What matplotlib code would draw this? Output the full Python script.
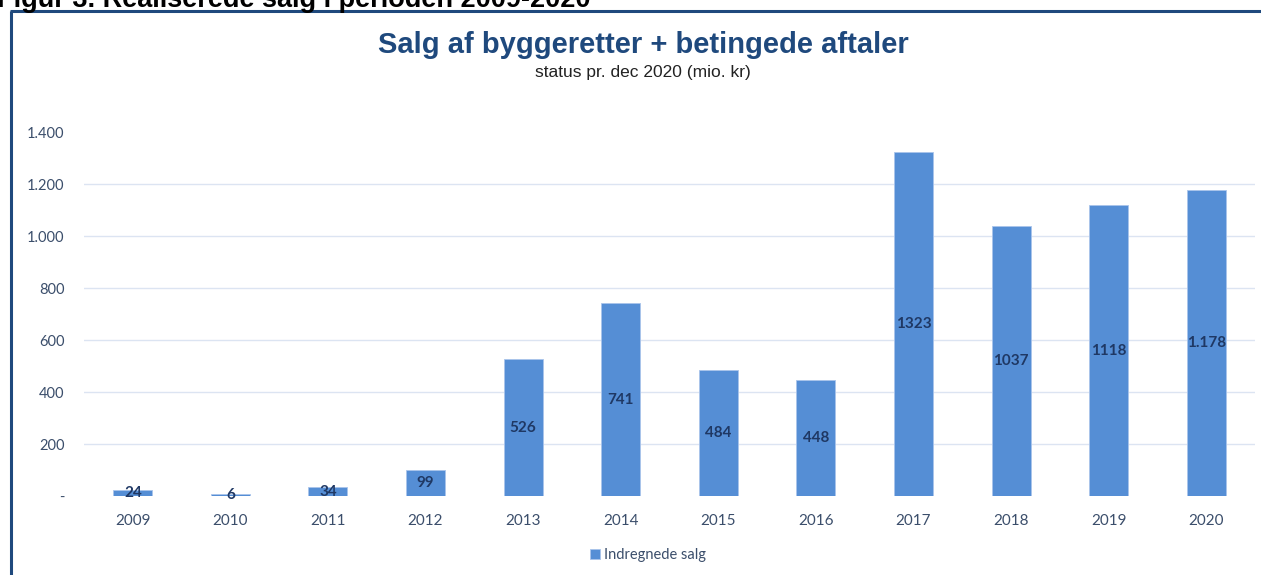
import matplotlib.pyplot as plt
from matplotlib.lines import Line2D

years = ['2009', '2010', '2011', '2012', '2013', '2014', '2015', '2016', '2017', '2018', '2019', '2020']
salg = [24, 6, 34, 99, 526, 741, 484, 448, 1323, 1037, 1118, 1178]
bar_labels = ['24', '6', '34', '99', '526', '741', '484', '448', '1323', '1037', '1118', '1.178']
y_ticks = [0, 200, 400, 600, 800, 1000, 1200, 1400]
y_ticklabels = ['-', '200', '400', '600', '800', '1.000', '1.200', '1.400']

bar_color = '#558ED5'
navy = '#1F3864'
tick_color = '#3B4E6B'
frame_color = '#1F497D'

fig = plt.figure(figsize=(12.61, 5.75), dpi=100)
ax = fig.add_axes([84 / 1261, 79 / 575, (1255 - 84) / 1261, 364 / 575])

x = range(len(years))
bars = ax.bar(x, salg, width=0.4, color=bar_color, edgecolor='#A9C4EB', linewidth=0.6, zorder=3,
              label='Indregnede salg')

for i, b in enumerate(bars):
    ax.text(b.get_x() + b.get_width() / 2, salg[i] / 2, bar_labels[i], ha='center', va='center',
            fontsize=11, fontweight='bold', color=navy, family='Lato', zorder=4)

ax.set_xlim(-0.5, len(years) - 0.5)
ax.set_ylim(0, 1400)
ax.set_xticks(list(x))
ax.set_xticklabels(years, family='Lato', fontsize=11, color=tick_color)
ax.set_yticks(y_ticks)
ax.set_yticklabels(y_ticklabels, family='Lato', fontsize=10.5, color=tick_color)
ax.tick_params(axis='both', length=0)
ax.tick_params(axis='y', pad=14)
ax.tick_params(axis='x', pad=13)
for s in ax.spines.values():
    s.set_visible(False)

# gitterlinjer kun mellem 200 og 1200
for v in y_ticks[1:-1]:
    ax.axhline(v, color='#DCE4F2', linewidth=1, zorder=1)

fig.text(643 / 1261, 1 - 45 / 575, 'Salg af byggeretter + betingede aftaler', ha='center', va='center',
         fontsize=21, fontweight='bold', color=frame_color, family='Liberation Sans')
fig.text(643 / 1261, 1 - 72 / 575, 'status pr. dec 2020 (mio. kr)', ha='center', va='center',
         fontsize=12.5, color='#222222', family='Liberation Sans')

# afskaaret figurtekst oeverst
fig.text(-0.002, 1 - 7 / 575, 'Figur 3. Realiserede salg i perioden 2009-2020', ha='left', va='baseline',
         fontsize=19.5, fontweight='bold', color='black', family='Liberation Sans')

# ramme
fig.add_artist(Line2D([11 / 1261, 11 / 1261], [0, 1 - 11 / 575], color=frame_color, linewidth=2.2,
                      transform=fig.transFigure, solid_capstyle='butt'))
fig.add_artist(Line2D([10 / 1261, 1], [1 - 11 / 575, 1 - 11 / 575], color=frame_color, linewidth=2.2,
                      transform=fig.transFigure, solid_capstyle='butt'))

leg = fig.legend(loc='center', bbox_to_anchor=(648 / 1261, 1 - 555 / 575), frameon=False,
                 prop={'family': 'Lato', 'size': 10.5}, handlelength=0.7, handleheight=0.7,
                 handletextpad=0.3)
for t in leg.get_texts():
    t.set_color(tick_color)

fig.savefig('out.png', dpi=100)
